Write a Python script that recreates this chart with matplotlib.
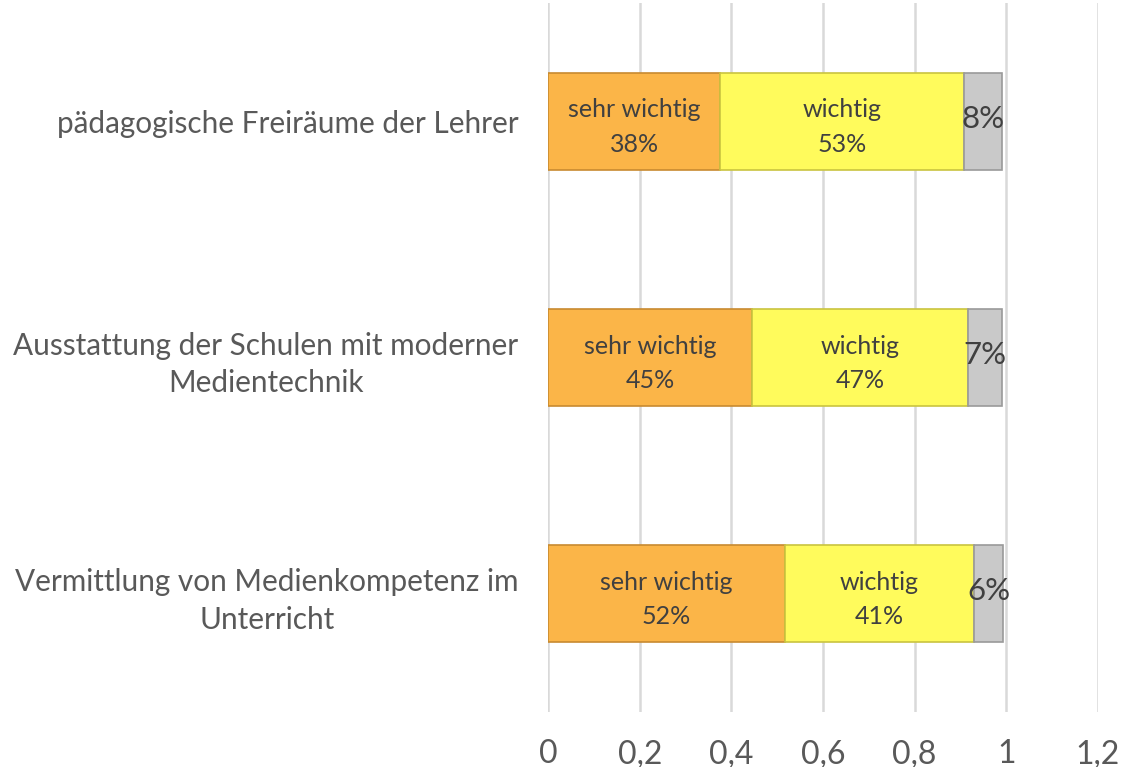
import matplotlib
matplotlib.use("Agg")
import matplotlib.pyplot as plt
import numpy as np

plt.rcParams['font.family'] = ['Lato', 'DejaVu Sans']

categories = ["pädagogische Freiräume der Lehrer",
              "Ausstattung der Schulen mit moderner\nMedientechnik",
              "Vermittlung von Medienkompetenz im\nUnterricht"]
sehr_wichtig = [0.376, 0.446, 0.517]
wichtig = [0.532, 0.471, 0.413]
rest = [0.084, 0.074, 0.064]
x_ticks = [0, 0.2, 0.4, 0.6, 0.8, 1.0, 1.2]
x_tick_labels = ["0", "0,2", "0,4", "0,6", "0,8", "1", "1,2"]

text_color = "#595959"
fig = plt.figure(figsize=(11.32, 7.67), dpi=100)
ax = fig.add_axes([548.3/1132, 1 - 712/767, (1097.7-548.3)/1132, (712-3)/767])

y = np.arange(len(categories))
h = 0.41
left = np.zeros(len(categories))
series = [(sehr_wichtig, "#FBB548", "#C88A30", "sehr wichtig"),
          (wichtig, "#FFFB5C", "#C9C440", "wichtig"),
          (rest, "#C9C9C9", "#9A9A9A", None)]
for vals, col, ec, name in series:
    vals = np.array(vals)
    bars = ax.barh(y, vals, left=left, height=h, color=col, edgecolor=ec,
                   linewidth=1.2, zorder=3)
    for i, (v, l) in enumerate(zip(vals, left)):
        if name:
            ax.text(l + v / 2, y[i] + 0.025, f"{name}\n{v*100:.0f}%", ha="center",
                    va="center", fontsize=18, color="#404040",
                    linespacing=1.6, zorder=4)
        else:
            ax.text(l + v / 2, y[i] - 0.01, f"{v*100:.0f}%", ha="center",
                    va="center", fontsize=22.5, color="#404040", zorder=4)
    left = left + vals

ax.set_xlim(0, 1.2)
ax.set_ylim(len(categories) - 0.5, -0.5)
ax.set_xticks(x_ticks)
ax.set_xticklabels(x_tick_labels, fontsize=23, color=text_color)
ax.set_yticks(y)
ax.set_yticklabels(categories, fontsize=21.4, color=text_color,
                   multialignment="center", linespacing=1.4)
ax.tick_params(axis="both", length=0)
ax.tick_params(axis="y", pad=21.5)
ax.tick_params(axis="x", pad=19.5)
ax.grid(axis="x", color="#D9D9D9", linewidth=1.8, zorder=0)
for s in ax.spines.values():
    s.set_visible(False)

fig.savefig("out.png", dpi=100)
